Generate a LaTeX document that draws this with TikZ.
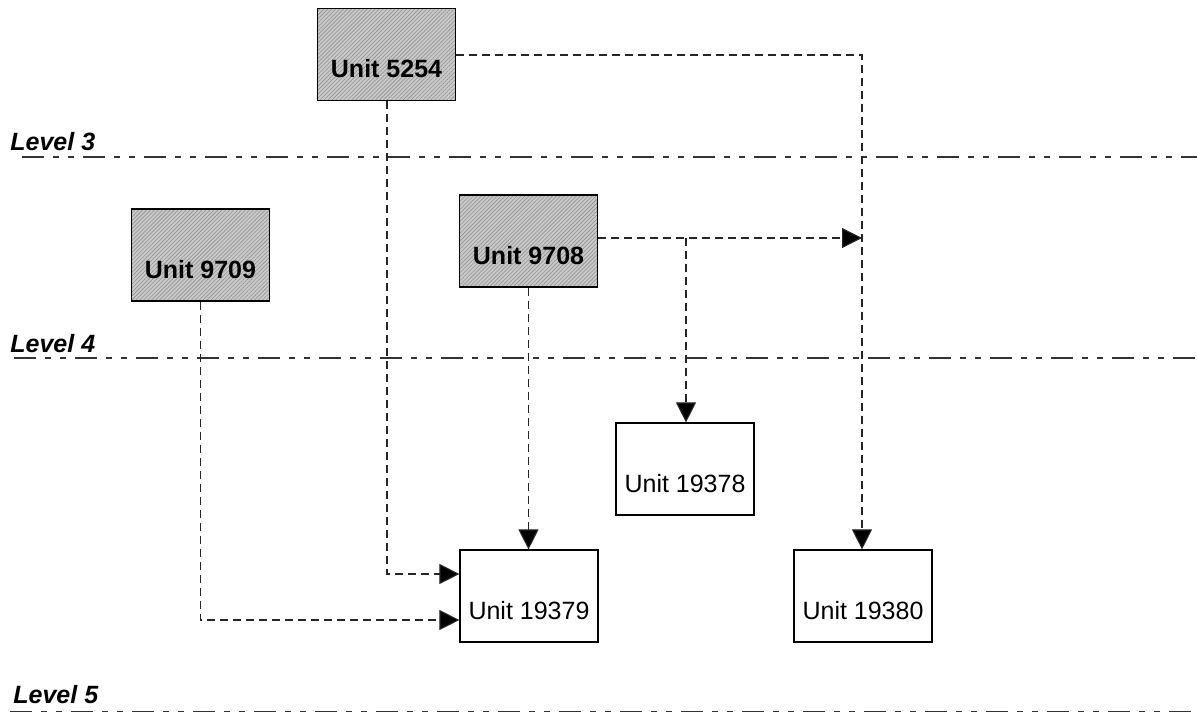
\documentclass[tikz,border=0pt]{standalone}
\usepackage{fontspec}
\setmainfont{Liberation Sans}
\usetikzlibrary{arrows.meta,patterns.meta}
\definecolor{boxgray}{RGB}{200,200,200}
\tikzset{
  unitbox/.style={draw=black, line width=0.6pt, minimum width=69pt, minimum height=46pt, inner sep=0pt, text depth=0pt},
  graybox/.style={unitbox, preaction={fill=boxgray}, pattern={Lines[angle=45,distance=1.4pt,line width=0.3pt]}, pattern color=gray!85},
  bluetext/.style={font=\fontsize{12.5}{15}\selectfont\bfseries},
  plaintext/.style={font=\fontsize{12.5}{15}\selectfont},
  levellabel/.style={font=\fontsize{12.5}{15}\selectfont\bfseries\itshape, anchor=base west, inner sep=0pt},
  levelline/.style={line width=0.6pt, black!80, dash pattern=on 11pt off 4.5pt on 3pt off 4.5pt on 3pt off 4.5pt},
  conn/.style={line width=0.55pt, black!85, dash pattern=on 4pt off 2.5pt},
  arr/.style={conn, -{Triangle[length=10pt,width=10pt,fill=black]}},
}
\begin{document}
\begin{tikzpicture}[x=0.5pt,y=-0.5pt]
\useasboundingbox (0,0) rectangle (1197,713);
% level lines
\node[levellabel] (l3) at (10,150) {Level 3};
\draw[levelline] (22,157) -- (1197,157);
\node[levellabel] (l4) at (10,352) {Level 4};
\draw[levelline] (14,358) -- (1197,358);
\node[levellabel] (l5) at (13,703) {Level 5};
\draw[levelline] (10,711.5) -- (1197,711.5);
% boxes
\node[graybox] (u5254) at (386.5,54.5) {};
\node[bluetext] at (386.5,69) {Unit 5254};
\node[graybox] (u9709) at (200.5,255) {};
\node[bluetext] at (200.5,270) {Unit 9709};
\node[graybox] (u9708) at (528.5,241) {};
\node[bluetext] at (528.5,256) {Unit 9708};
\node[unitbox] (u19378) at (685,469) {};
\node[plaintext] at (685,484) {Unit 19378};
\node[unitbox] (u19379) at (529,596) {};
\node[plaintext] at (529,611) {Unit 19379};
\node[unitbox] (u19380) at (863,596) {};
\node[plaintext] at (863,611) {Unit 19380};
% connectors
\coordinate (c1) at (862,55);
\coordinate (j1) at (862,238);
\coordinate (b1) at (686,238);
\draw[arr] (u5254.east |- c1) -- (c1) -- (u19380.north -| c1);
\draw[arr] (u5254.south -| 387,0) |- (u19379.west |- 0,574);
\draw[arr] (u9709.south) |- (u19379.west |- 0,620);
\draw[arr] (u9708.east |- j1) -- (j1);
\draw[arr] (b1) -- (u19378.north -| b1);
\draw[arr] (u9708.south) -- (u19379.north -| u9708.south);
\end{tikzpicture}
\end{document}
